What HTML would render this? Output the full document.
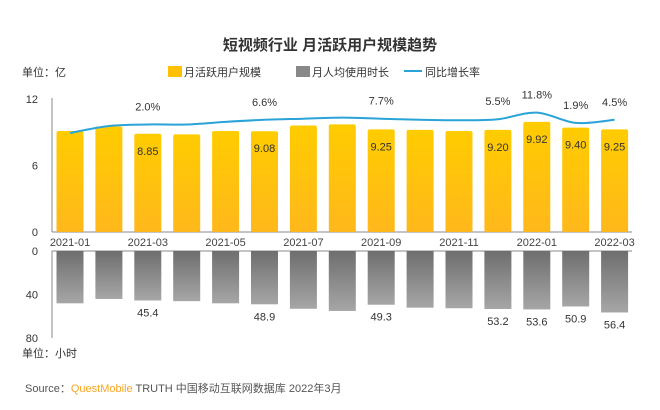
<!DOCTYPE html>
<html><head><meta charset="utf-8">
<style>
body{margin:0;background:#fff;}
svg text{font-family:"Liberation Sans","Noto Sans CJK SC",sans-serif;}
</style></head>
<body>
<svg width="660" height="405" viewBox="0 0 660 405">
<defs>
<linearGradient id="yg" x1="0" y1="0" x2="0" y2="1"><stop offset="0" stop-color="#ffcc00"/><stop offset="1" stop-color="#ffb81c"/></linearGradient>
<linearGradient id="gg" x1="0" y1="0" x2="0" y2="1"><stop offset="0" stop-color="#6e6e6e"/><stop offset="1" stop-color="#a6a6a6"/></linearGradient>
</defs>
<text x="330" y="50" text-anchor="middle" font-size="15" font-weight="bold" fill="#333">短视频行业 月活跃用户规模趋势</text>
<text x="22" y="76" font-size="11" fill="#333">单位：亿</text>
<g>
<rect x="168" y="66" width="14" height="11" fill="#ffc000"/>
<text x="184" y="76" font-size="11" fill="#333">月活跃用户规模</text>
<rect x="296" y="66" width="14" height="11" fill="#888"/>
<text x="312" y="76" font-size="11" fill="#333">月人均使用时长</text>
<line x1="404" y1="71" x2="422" y2="71" stroke="#2aa3d8" stroke-width="2"/>
<text x="425" y="76" font-size="11" fill="#333">同比增长率</text>
</g>
<g id="plot"></g>
<text x="22" y="357" font-size="11" fill="#333">单位：小时</text>
<text x="25" y="392" font-size="11" fill="#555">Source：<tspan fill="#f5a623">QuestMobile</tspan> TRUTH 中国移动互联网数据库 2022年3月</text>
</svg>
<script>
const months=["2021-01","2021-02","2021-03","2021-04","2021-05","2021-06","2021-07","2021-08","2021-09","2021-10","2021-11","2021-12","2022-01","2022-02","2022-03"];
const mau=[9.1,9.5,8.85,8.8,9.1,9.08,9.6,9.7,9.25,9.2,9.1,9.20,9.92,9.40,9.25];
const mauLabels=["","","8.85","","","9.08","","","9.25","","","9.20","9.92","9.40","9.25"];
const hours=[48,44,45.4,46,48,48.9,53,55,49.3,52,52.5,53.2,53.6,50.9,56.4];
const hourLabels=["","","45.4","","","48.9","","","49.3","","","53.2","53.6","50.9","56.4"];
const growth=[-7.6,-1,0.5,0.5,3,5,6,7,6,5,4.5,5.5,11.8,2,5];
const growthLabels=["","","2.0%","","","6.6%","","","7.7%","","","5.5%","11.8%","1.9%","4.5%"];
const upperTicks=[0,6,12];
const lowerTicks=[0,40,80];
const xTickIdx=[0,2,4,6,8,10,12,14];

const NS="http://www.w3.org/2000/svg";
const g=document.getElementById('plot');
const xc=i=>70+i*38.9;
const yU=v=>232-v*11.1;
const yL=v=>251+v*1.09;
const yG=r=>125-r*1.05;
function el(t,a,txt){const e=document.createElementNS(NS,t);for(const k in a)e.setAttribute(k,a[k]);if(txt!==undefined)e.textContent=txt;g.appendChild(e);return e;}

let e=el('line',{x1:52,y1:98,x2:52,y2:232,stroke:'#888'});


e=el('line',{x1:52,y1:232,x2:632,y2:232,stroke:'#888'});


e=el('line',{x1:52,y1:251,x2:52,y2:338,stroke:'#888'});


e=el('line',{x1:52,y1:251,x2:632,y2:251,stroke:'#888'});



upperTicks.forEach(t=>{
 const tx=el('text',{x:38,y:yU(t)+4,'font-size':11,'text-anchor':'end',fill:'#333'},String(t));
 
 
});
lowerTicks.forEach(t=>{
 const tx=el('text',{x:38,y:yL(t)+4,'font-size':11,'text-anchor':'end',fill:'#333'},String(t));
 
 
});
xTickIdx.forEach(i=>{
 const tx=el('text',{x:xc(i),y:246,'font-size':11,'text-anchor':'middle',fill:'#444'},months[i]);
 
 
});
const bw=27;
mau.forEach((v,i)=>{
 const r=el('rect',{x:xc(i)-bw/2,y:yU(v),width:bw,height:232-yU(v),fill:'url(#yg)',rx:2});
 
 
 if(mauLabels[i]){const t=el('text',{x:xc(i),y:yU(v)+21,'font-size':11,'text-anchor':'middle',fill:'#333'},mauLabels[i]);
 
 }
});
hours.forEach((v,i)=>{
 const r=el('rect',{x:xc(i)-bw/2,y:251,width:bw,height:yL(v)-251,fill:'url(#gg)'});
 
 
 if(hourLabels[i]){const t=el('text',{x:xc(i),y:yL(v)+16,'font-size':11,'text-anchor':'middle',fill:'#333'},hourLabels[i]);
 
 }
});
const pts=growth.map((r,i)=>[xc(i),yG(r)]);
let d='M'+pts[0][0]+','+pts[0][1];
for(let i=0;i<pts.length-1;i++){
 const p0=pts[Math.max(i-1,0)],p1=pts[i],p2=pts[i+1],p3=pts[Math.min(i+2,pts.length-1)];
 const c1=[p1[0]+(p2[0]-p0[0])/6,p1[1]+(p2[1]-p0[1])/6],c2=[p2[0]-(p3[0]-p1[0])/6,p2[1]-(p3[1]-p1[1])/6];
 d+=` C${c1[0]},${c1[1]} ${c2[0]},${c2[1]} ${p2[0]},${p2[1]}`;
}
const ln=el('path',{d:d,fill:'none',stroke:'#2aa3d8','stroke-width':2});


growth.forEach((r,i)=>{
 if(growthLabels[i]){const t=el('text',{x:xc(i),y:yG(r)-14,'font-size':11,'text-anchor':'middle',fill:'#333'},growthLabels[i]);
 
 }
});
</script>
</body></html>
